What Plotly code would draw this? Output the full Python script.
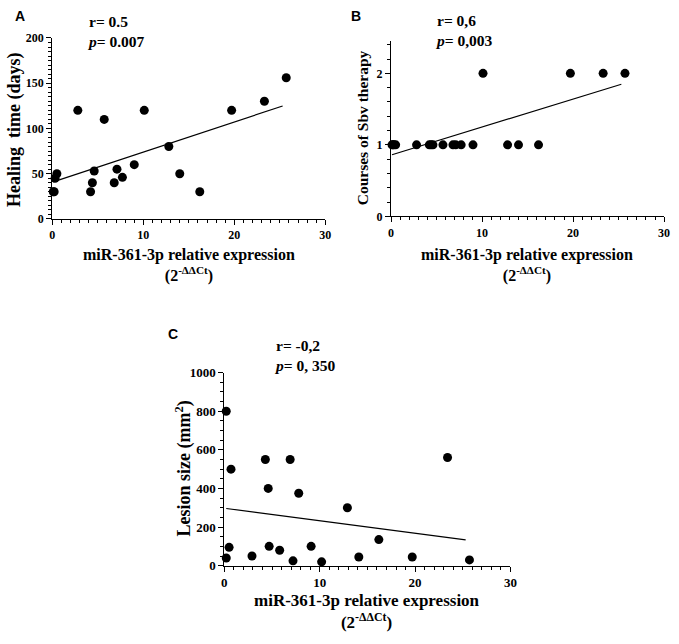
import numpy as np
import plotly.graph_objects as go

W, H = 679, 644

# ---- data ----
expr_x = [0.1, 0.2, 0.3, 0.5, 2.8, 4.2, 4.4, 4.6, 5.7, 6.8, 7.1, 7.7, 9.0, 10.1, 12.8, 14.0, 16.2, 19.7, 23.3, 25.7]
healing_days = [30, 30, 45, 50, 120, 30, 40, 53, 110, 40, 55, 46, 60, 120, 80, 50, 30, 120, 130, 156]
sbv_courses = [1, 1, 1, 1, 1, 1, 1, 1, 1, 1, 1, 1, 1, 2, 1, 1, 1, 2, 2, 2]
lesion_x = [0.2, 0.2, 0.5, 0.7, 2.9, 4.3, 4.6, 4.7, 5.8, 6.9, 7.2, 7.8, 9.1, 10.2, 12.9, 14.1, 16.2, 19.7, 23.4, 25.7]
lesion_size = [40, 800, 95, 500, 50, 550, 400, 100, 80, 550, 25, 375, 100, 20, 300, 45, 135, 45, 560, 30]

x_title = "miR-361-3p relative expression<br>(2<sup>-ΔΔCt</sup>)"
y_titles = ["Healing\u00a0 time (days)", "Courses of Sbv therapy", "Lesion size (mm<sup>2</sup>)"]
stats = [("r= 0.5", "<i>p</i>= 0.007"), ("r= 0,6", "<i>p</i>= 0,003"), ("r= -0,2", "<i>p</i>= 0, 350")]
panel_letters = ["A", "B", "C"]


def px_x(p):
    return p / W


def px_y(p):
    return 1 - p / H


SERIF = "Liberation Serif, Times New Roman, serif"
SANS = "Liberation Sans, Arial, sans-serif"

fig = go.Figure()

panels = [
    dict(x=expr_x, y=healing_days, box=(50, 326.7, 31.7, 217), yr=[0, 200], dt=50, mdt=5, tf=12),
    dict(x=expr_x, y=sbv_courses, box=(393.3, 670, 35, 214.3), yr=[0, 2.45], dt=1, mdt=0.2, tf=12),
    dict(x=lesion_x, y=lesion_size, box=(224.3, 514.3, 374.3, 572), yr=[0, 1000], dt=200, mdt=50, tf=13),
]

for i, p in enumerate(panels):
    n = "" if i == 0 else str(i + 1)
    xa, ya = "x" + n, "y" + n
    x = np.array(p["x"], dtype=float)
    y = np.array(p["y"], dtype=float)
    fig.add_trace(go.Scatter(x=x, y=y, mode="markers", xaxis=xa, yaxis=ya,
                             marker=dict(color="black", size=9), cliponaxis=False,
                             showlegend=False))
    slope, icpt = np.polyfit(x, y, 1)
    fx = np.array([x.min(), 25.3])
    fig.add_trace(go.Scatter(x=fx, y=icpt + slope * fx, mode="lines", xaxis=xa, yaxis=ya,
                             line=dict(color="black", width=1.2), showlegend=False))
    l, r, t, b = p["box"]
    axis_common = dict(showline=True, linecolor="black", linewidth=1.2, ticks="outside",
                       ticklen=5, tickwidth=1.2, tickcolor="black", showgrid=False,
                       zeroline=False,
                       tickfont=dict(family=SERIF, size=p["tf"], color="black", weight="bold"))
    fig.layout["xaxis" + n] = dict(domain=[px_x(l), px_x(r)], range=[0, 30], dtick=10,
                                   anchor=ya, fixedrange=True,
                                   minor=dict(dtick=1, ticks="outside", ticklen=3, tickcolor="black", tickwidth=1),
                                   **axis_common)
    fig.layout["yaxis" + n] = dict(domain=[px_y(b), px_y(t)], range=p["yr"], dtick=p["dt"],
                                   anchor=xa, fixedrange=True,
                                   minor=dict(dtick=p["mdt"], ticks="outside", ticklen=3, tickcolor="black", tickwidth=1),
                                   **axis_common)

annos = []
# x titles
for (cx, ty, fs) in [(188, 265, 16), (531, 265, 16), (369, 619, 17)]:
    annos.append(dict(text="<b>" + x_title.replace("<br>", "</b><br><b>") + "</b>", x=px_x(cx), y=px_y(ty),
                      xref="paper", yref="paper", showarrow=False, xanchor="center", yanchor="middle",
                      font=dict(family=SERIF, size=fs, color="black")))
# y titles
for (txt, cx, cy, fs) in zip(y_titles, [11, 364, 183], [125, 124, 473], [18, 15.5, 18]):
    annos.append(dict(text="<b>" + txt + "</b>", x=px_x(cx), y=px_y(cy), xref="paper", yref="paper",
                      showarrow=False, textangle=-90, xanchor="center", yanchor="middle",
                      font=dict(family=SERIF, size=fs, color="black")))
# stats (two lines in one text block)
for (st, lx, cy) in zip(stats, [83, 436, 273], [25, 24.5, 357]):
    annos.append(dict(text="<b>" + st[0] + "</b><br><b>" + st[1] + "</b>", x=px_x(lx), y=px_y(cy),
                      xref="paper", yref="paper", showarrow=False, xanchor="left", yanchor="middle",
                      align="left", font=dict(family=SERIF, size=15.5, color="black")))
# panel letters
for (lt, lx, ly) in zip(panel_letters, [17, 358, 172], [9, 9, 335]):
    annos.append(dict(text="<b>" + lt + "</b>", x=px_x(lx), y=px_y(ly), xref="paper", yref="paper",
                      showarrow=False, xanchor="center", yanchor="middle",
                      font=dict(family=SANS, size=14, color="black")))

fig.update_layout(width=W, height=H, margin=dict(l=0, r=0, t=0, b=0),
                  paper_bgcolor="white", plot_bgcolor="white", annotations=annos,
                  showlegend=False)

fig.write_html("out.html", config={"displayModeBar": False},
               post_script="document.body.style.margin='0';document.body.style.overflow='hidden';")
